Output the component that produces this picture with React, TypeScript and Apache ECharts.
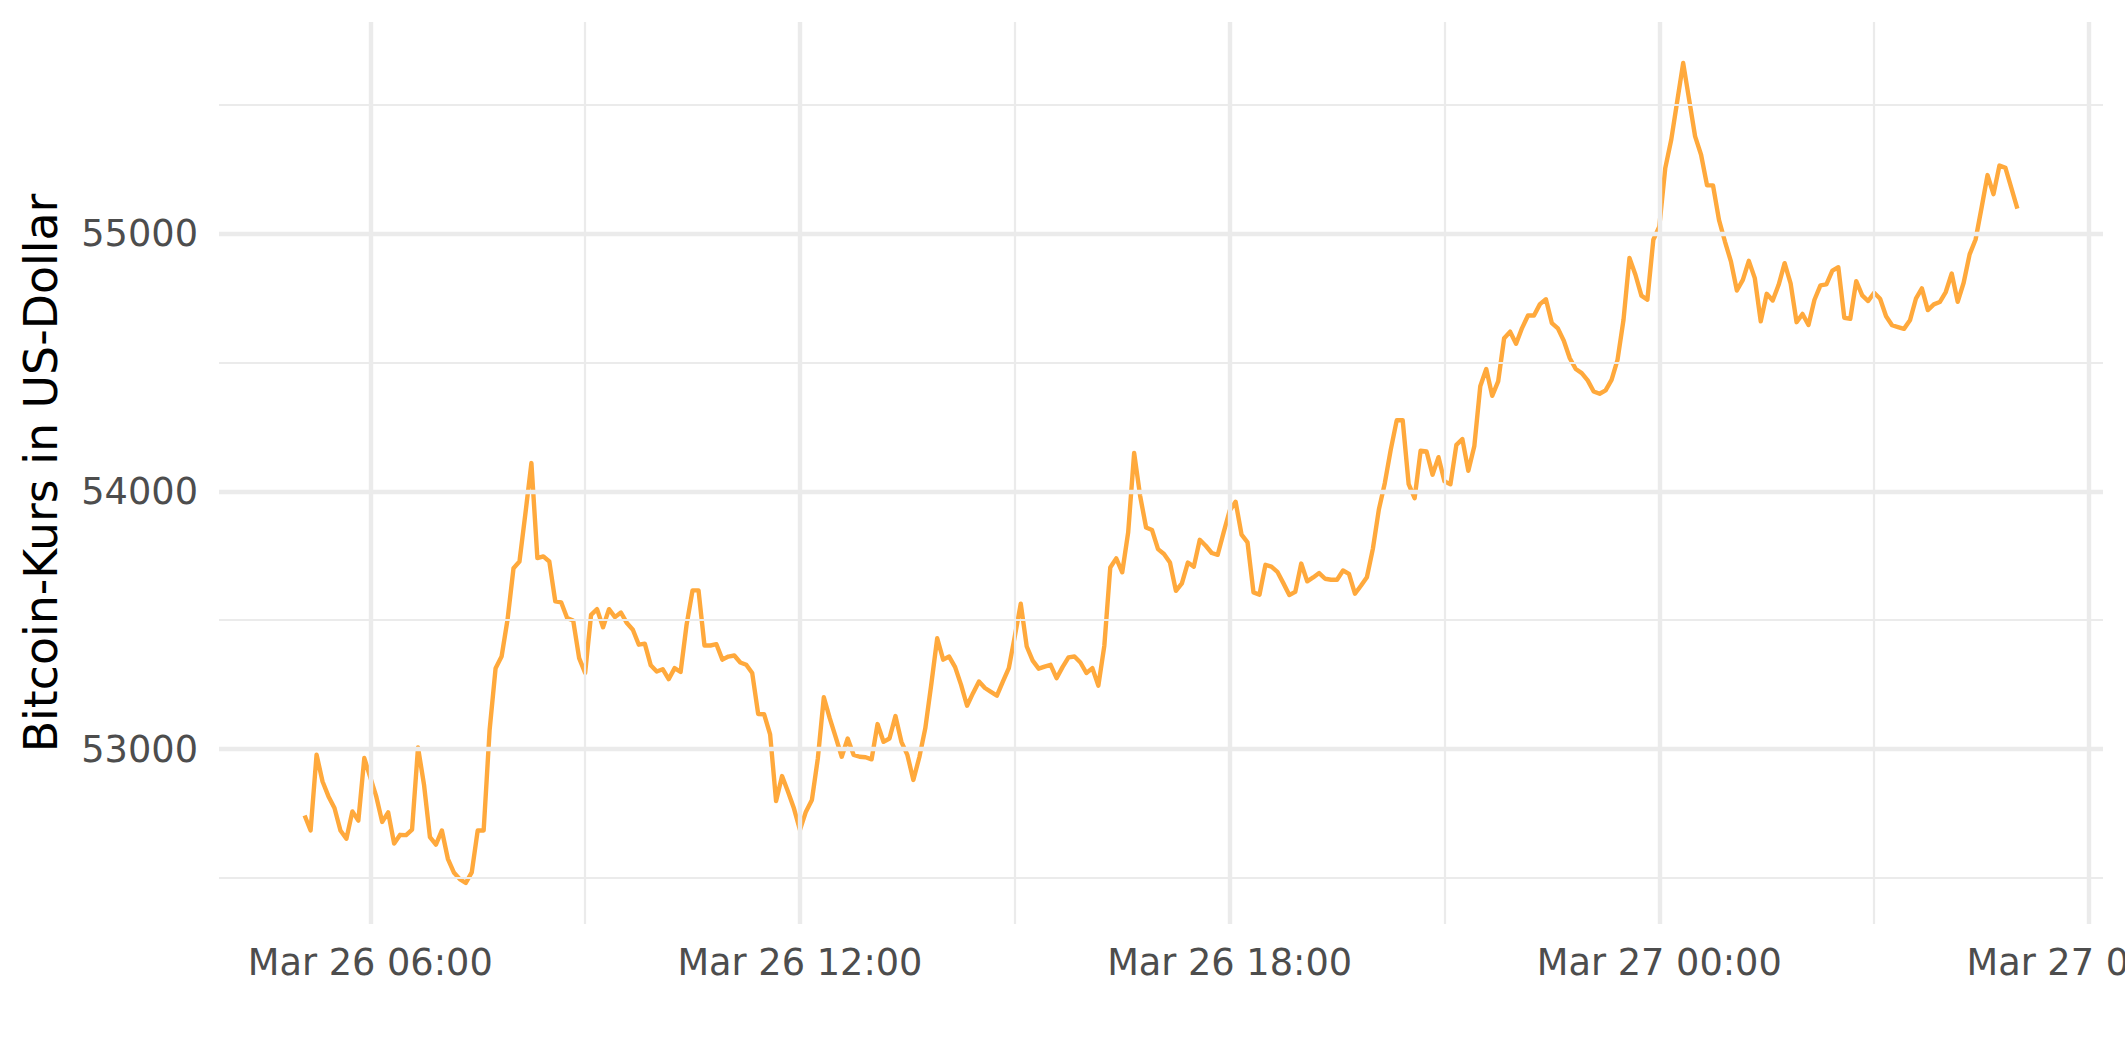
import React, { useEffect, useRef } from "react";
import * as echarts from "echarts";

// Bitcoin price in US dollars, 5-minute samples starting Mar 26 2021 05:05 (UTC)
const SERIES_START = "2021-03-26T05:05:00Z";
const STEP_MINUTES = 5;

// 05:05 – 07:00
const price0505 = [
  52742, 52684, 52978, 52874, 52816, 52771, 52684, 52652, 52758, 52722, 52965, 52890,
  52816, 52717, 52754, 52633, 52667, 52666, 52687, 53006, 52862, 52658, 52629, 52684,
];
// 07:05 – 09:00
const price0705 = [
  52574, 52521, 52495, 52480, 52521, 52684, 52684, 53075, 53314, 53359, 53502, 53702,
  53728, 53915, 54110, 53741, 53748, 53728, 53573, 53569, 53508, 53499, 53353, 53295,
];
// 09:05 – 11:00
const price0905 = [
  53521, 53543, 53473, 53543, 53512, 53530, 53489, 53463, 53405, 53409, 53325, 53301,
  53310, 53271, 53314, 53299, 53482, 53616, 53616, 53402, 53402, 53407, 53347, 53359,
];
// 11:05 – 13:00
const price1105 = [
  53363, 53336, 53327, 53295, 53136, 53135, 53057, 52798, 52895, 52834, 52769, 52686,
  52757, 52802, 52964, 53201, 53119, 53045, 52970, 53041, 52977, 52970, 52968, 52960,
];
// 13:05 – 15:00
const price1305 = [
  53097, 53028, 53041, 53128, 53028, 52977, 52880, 52968, 53080, 53250, 53430, 53347,
  53359, 53318, 53249, 53168, 53217, 53262, 53237, 53222, 53207, 53262, 53314, 53437,
];
// 15:05 – 17:00
const price1505 = [
  53564, 53398, 53343, 53312, 53320, 53327, 53275, 53318, 53356, 53359, 53336, 53295,
  53314, 53246, 53400, 53705, 53740, 53686, 53841, 54149, 53983, 53860, 53850, 53776,
];
// 17:05 – 19:00
const price1705 = [
  53757, 53724, 53614, 53643, 53724, 53708, 53812, 53789, 53761, 53754, 53841, 53925,
  53960, 53832, 53802, 53608, 53599, 53715, 53708, 53688, 53644, 53598, 53610, 53720,
];
// 19:05 – 21:00
const price1905 = [
  53651, 53666, 53683, 53661, 53657, 53657, 53693, 53680, 53603, 53634, 53667, 53777,
  53929, 54032, 54162, 54276, 54276, 54028, 53974, 54158, 54155, 54065, 54133, 54039,
];
// 21:05 – 23:00
const price2105 = [
  54028, 54181, 54203, 54080, 54175, 54408, 54475, 54371, 54427, 54595, 54620, 54573,
  54634, 54683, 54683, 54727, 54746, 54653, 54633, 54585, 54517, 54475, 54459, 54431,
];
// 23:05 – 01:00 (Mar 27)
const price2305 = [
  54388, 54379, 54392, 54433, 54511, 54666, 54906, 54841, 54760, 54744, 54977, 55028,
  55255, 55365, 55514, 55663, 55521, 55378, 55307, 55188, 55188, 55054, 54970, 54893,
];
// 01:05 – 03:00 (Mar 27)
const price0105 = [
  54780, 54821, 54895, 54828, 54660, 54767, 54741, 54802, 54886, 54808, 54657, 54689,
  54646, 54744, 54800, 54804, 54857, 54870, 54674, 54670, 54816, 54761, 54739, 54771,
];
// 03:05 – 05:00 (Mar 27)
const price0305 = [
  54748, 54680, 54645, 54638, 54631, 54664, 54748, 54788, 54704, 54726, 54735, 54774,
  54846, 54736, 54810, 54920, 54978, 55101, 55228, 55154, 55265, 55256, 55177, 55098,
];

// axis ticks / grid positions
const xTickLabels = [
  "2021-03-26T06:00:00Z",
  "2021-03-26T12:00:00Z",
  "2021-03-26T18:00:00Z",
  "2021-03-27T00:00:00Z",
  "2021-03-27T06:00:00Z",
];
const xMinorGrid = [
  "2021-03-26T09:00:00Z",
  "2021-03-26T15:00:00Z",
  "2021-03-26T21:00:00Z",
  "2021-03-27T03:00:00Z",
];
const yTickLabels = [53000, 54000, 55000];
const yMinorGrid = [52500, 53500, 54500, 55500];

const MONTHS = ["Jan", "Feb", "Mar", "Apr", "May", "Jun", "Jul", "Aug", "Sep", "Oct", "Nov", "Dec"];
const pad = (n: number) => (n < 10 ? "0" + n : "" + n);
const fmtTime = (v: number) => {
  const d = new Date(v);
  return `${MONTHS[d.getUTCMonth()]} ${d.getUTCDate()} ${pad(d.getUTCHours())}:${pad(d.getUTCMinutes())}`;
};

export default function App() {
  const ref = useRef<HTMLDivElement>(null);

  useEffect(() => {
    if (!ref.current) return;
    const chart = echarts.init(ref.current, undefined, { renderer: "svg" });

    const prices = [
      ...price0505, ...price0705, ...price0905, ...price1105, ...price1305, ...price1505,
      ...price1705, ...price1905, ...price2105, ...price2305, ...price0105, ...price0305,
    ];
    const t0 = Date.parse(SERIES_START);
    const stepMs = STEP_MINUTES * 60 * 1000;
    const data = prices.map((p, i) => [t0 + i * stepMs, p]);

    // ggplot-style 5% expansion of the data range
    const tFirst = data[0][0];
    const tLast = data[data.length - 1][0];
    const tPad = (tLast - tFirst) * 0.05;
    const pMin = Math.min(...prices);
    const pMax = Math.max(...prices);
    const pPad = (pMax - pMin) * 0.05;

    const GRID = "#EBEBEB";
    const majorW = 4.4;
    const minorW = 2.2;
    const gridLines = [
      ...xTickLabels.map((s) => ({ xAxis: Date.parse(s), lineStyle: { width: majorW, color: GRID, type: "solid" } })),
      ...xMinorGrid.map((s) => ({ xAxis: Date.parse(s), lineStyle: { width: minorW, color: GRID, type: "solid" } })),
      ...yTickLabels.map((v) => ({ yAxis: v, lineStyle: { width: majorW, color: GRID, type: "solid" } })),
      ...yMinorGrid.map((v) => ({ yAxis: v, lineStyle: { width: minorW, color: GRID, type: "solid" } })),
    ];

    const labelStyle = {
      fontFamily: "DejaVu Sans",
      fontSize: 36.7,
      color: "#4D4D4D",
    };

    chart.setOption({
      animation: false,
      backgroundColor: "#FFFFFF",
      grid: {
        left: 219,
        right: 22,
        top: 22,
        bottom: 138,
        containLabel: false,
        outerBoundsMode: "none",
      },
      xAxis: {
        type: "value",
        min: tFirst - tPad,
        max: tLast + tPad,
        scale: true,
        axisLine: { show: false },
        axisTick: { show: false },
        splitLine: { show: false },
        axisLabel: {
          ...labelStyle,
          margin: 20,
          customValues: xTickLabels.map((s) => Date.parse(s)),
          formatter: (v: number) => fmtTime(v),
          hideOverlap: false,
        },
      },
      yAxis: {
        type: "value",
        min: pMin - pPad,
        max: pMax + pPad,
        scale: true,
        axisLine: { show: false },
        axisTick: { show: false },
        splitLine: { show: false },
        axisLabel: {
          ...labelStyle,
          margin: 21,
          customValues: yTickLabels,
          formatter: (v: number) => String(Math.round(v)),
        },
      },
      graphic: [
        {
          type: "text",
          x: 41,
          y: 473,
          rotation: Math.PI / 2,
          style: {
            text: "Bitcoin-Kurs in US-Dollar",
            fontFamily: "DejaVu Sans",
            fontSize: 45.8,
            fill: "#000000",
            align: "center",
            verticalAlign: "middle",
          },
        },
      ],
      series: [
        {
          type: "line",
          data: [],
          z: 1,
          silent: true,
          markLine: {
            silent: true,
            animation: false,
            symbol: ["none", "none"],
            label: { show: false },
            emphasis: { disabled: true },
            data: gridLines,
          },
        },
        {
          type: "line",
          data,
          z: 3,
          showSymbol: false,
          symbol: "none",
          silent: true,
          lineStyle: { color: "#FFA93C", width: 4.4, join: "round", cap: "butt" },
        },
      ],
    });

    return () => chart.dispose();
  }, []);

  return (
    <div
      ref={ref}
      style={{ position: "absolute", left: 0, top: 0, width: 2125, height: 1062 }}
    />
  );
}
